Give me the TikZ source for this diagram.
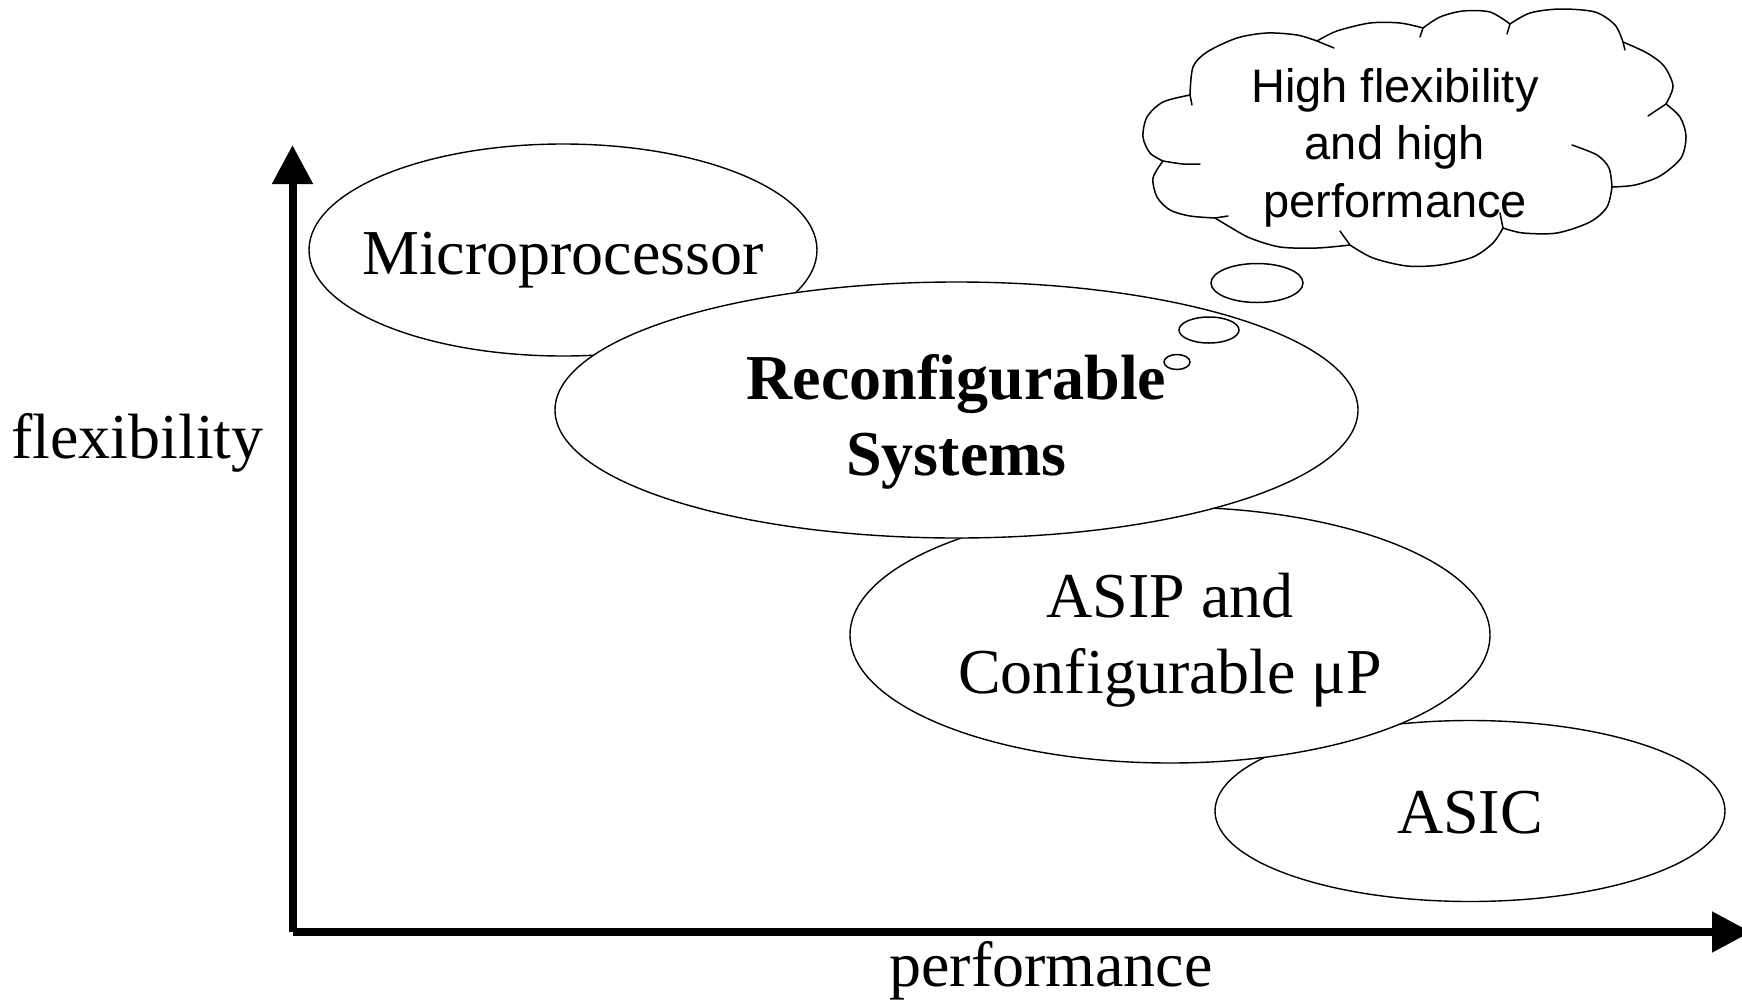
\documentclass[tikz,border=0pt]{standalone}
\usepackage{fontspec}
\setmainfont{Liberation Serif}
\newfontfamily\cloudfont{Liberation Sans}
\usetikzlibrary{arrows.meta,shapes.geometric}
\begin{document}
\begin{tikzpicture}[x=0.5pt,y=-0.5pt,
  blob/.style={ellipse, draw, line width=0.7pt, fill=white, inner sep=0pt},
  lab/.style={anchor=base, inner sep=0pt, font=\fontsize{32}{38}\selectfont},
  boldlab/.style={anchor=base, inner sep=0pt, font=\fontsize{32}{38}\selectfont\bfseries},
  cloudtxt/.style={anchor=base, inner sep=0pt, font=\cloudfont\fontsize{23.5}{28}\selectfont},
  axisline/.style={line width=4pt, -{Triangle[length=19.5pt,width=19.5pt]}},
  cloudline/.style={line width=0.75pt, fill=white, line join=round},
  stub/.style={line width=0.75pt, line cap=round},
]
\useasboundingbox (0,0) rectangle (1742,1002);

% axes
\coordinate (O) at (292.5,932);
\coordinate (ytip) at (292.5,145);
\coordinate (xtip) at (1751,932);
\draw[axisline] (O) -- (ytip);
\draw[axisline] (O) -- (xtip);
\node[lab] (flex) at (137.5,458) {flexibility};
\node[lab] (perf) at (1051,986.5) {performance};

% ellipses
\node[blob, minimum width=255pt, minimum height=90.5pt] (asic) at (1470,811) {};
\node[blob, minimum width=320pt, minimum height=128pt] (asip) at (1170,635) {};
\node[blob, minimum width=254pt, minimum height=106pt] (micro) at (563,250) {};
\node[blob, minimum width=401.5pt, minimum height=128pt] (reconf) at (956.5,410) {};

\node[lab] (asictxt) at (1470,833) {ASIC};
\node[lab] (asiptxt1) at (1170,617) {ASIP and};
\node[lab] (asiptxt2) at (1170,693) {Configurable μP};
\node[lab] (microtxt) at (563,274) {Microprocessor};
\node[boldlab] (reconftxt1) at (956.5,399) {Reconfigurable};
\node[boldlab] (reconftxt2) at (956.5,475) {Systems};

% thought bubbles
\node[blob, line width=0.75pt, minimum width=46pt, minimum height=19.5pt] (b1) at (1257,283) {};
\node[blob, line width=0.75pt, minimum width=30pt, minimum height=13pt] (b2) at (1209,330) {};
\node[blob, line width=0.75pt, minimum width=13pt, minimum height=7.5pt] (b3) at (1177,362) {};

% cloud
\filldraw[cloudline]
  plot[smooth] coordinates {(1190,95) (1193,67) (1207,52) (1237,38) (1267,33) (1297,35) (1317,41)}
  -- plot[smooth] coordinates {(1317,41) (1337,31) (1370,23) (1400,23) (1423,28)}
  -- plot[smooth] coordinates {(1423,28) (1440,17) (1463,11) (1490,12) (1510,24)}
  -- plot[smooth] coordinates {(1510,24) (1530,13) (1560,9) (1595,12) (1615,25) (1623,42)}
  -- plot[smooth] coordinates {(1623,42) (1647,53) (1664,66) (1673,86) (1666,104)}
  -- plot[smooth] coordinates {(1666,104) (1680,117) (1686,136) (1681,158) (1660,176) (1635,185) (1612,187)}
  -- plot[smooth] coordinates {(1612,187) (1607,207) (1590,222) (1557,233) (1523,233) (1503,228)}
  -- plot[smooth] coordinates {(1503,228) (1493,243) (1473,257) (1440,265) (1407,266) (1373,258) (1350,245)}
  -- plot[smooth] coordinates {(1350,245) (1317,248) (1280,247) (1250,238) (1230,227) (1215,218)}
  -- plot[smooth] coordinates {(1215,218) (1190,216) (1170,210) (1157,197) (1153,178) (1163,161)}
  -- plot[smooth] coordinates {(1163,161) (1150,153) (1143,137) (1147,117) (1163,102) (1190,95)}
  -- cycle;
% inner arc stubs of the cloud
\draw[stub] (1190,95) -- (1192,105);
\draw[stub] (1317,41) -- (1334,48);
\draw[stub] (1423,28) -- (1420,37);
\draw[stub] (1510,24) -- (1507,34);
\draw[stub] (1623,42) -- (1625,50);
\draw[stub] (1666,104) -- (1648,116);
\draw[stub] plot[smooth] coordinates {(1612,187) (1609,168) (1597,155) (1572,145)};
\draw[stub] (1503,228) -- (1500,213);
\draw[stub] (1350,245) -- (1340,231);
\draw[stub] (1215,218) -- (1228,216);
\draw[stub] plot[smooth] coordinates {(1163,161) (1183,164) (1200,164)};

\node[cloudtxt] (c1) at (1395,102) {High flexibility};
\node[cloudtxt] (c2) at (1395,159) {and high};
\node[cloudtxt] (c3) at (1395,217) {performance};
\end{tikzpicture}
\end{document}
